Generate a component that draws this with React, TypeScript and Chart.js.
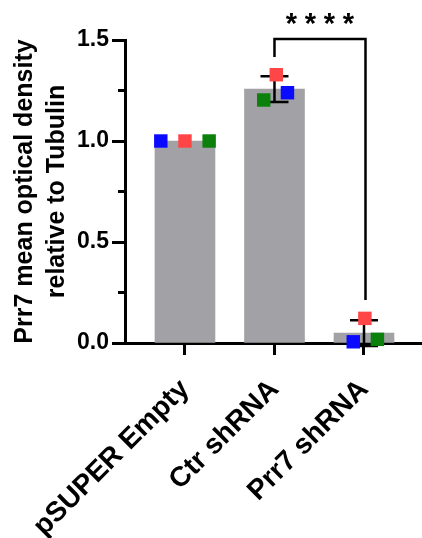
import React, { useEffect, useRef } from 'react';
import { Chart, registerables } from 'chart.js';

Chart.register(...registerables);

const categories = ['pSUPER Empty', 'Ctr shRNA', 'Prr7 shRNA'];
const means = [1.0, 1.257, 0.049];
const sds = [0, 0.064, 0.064];
const blueValues = [1.0, 1.239, 0.006];
const redValues = [1.0, 1.328, 0.122];
const greenValues = [1.0, 1.203, 0.018];
const blueJitter = [-0.27, 0.145, -0.12];
const redJitter = [0, 0.02, 0.01];
const greenJitter = [0.27, -0.12, 0.15];
const yTicks = [0, 0.5, 1.0, 1.5];
const yMinorTicks = [0.25, 0.75, 1.25];
const yAxisTitle = ['Prr7 mean optical density', 'relative to Tubulin'];
const sigLabel = ['*', '*', '*', '*'];
const sigFrom = 1;
const sigTo = 2;
const sigTop = 1.505;
const sigLeftEnd = 1.416;
const sigRightEnd = 0.213;
const sigTextY = 1.604;

const FONT = 'Arial, "Liberation Sans", Helvetica, sans-serif';

const overlay = {
  id: 'overlay',
  afterDatasetDraw(chart: any, args: any) {
    if (args.index !== 0) return;
    const ctx = chart.ctx;
    const xs = chart.scales.x;
    const ys = chart.scales.y;
    ctx.save();
    ctx.strokeStyle = '#000';
    ctx.lineWidth = 2.5;
    means.forEach((m, i) => {
      if (!sds[i]) return;
      const px = xs.getPixelForValue(i);
      const top = ys.getPixelForValue(m + sds[i]);
      const bot = ys.getPixelForValue(m - sds[i]);
      ctx.beginPath();
      ctx.moveTo(px, top);
      ctx.lineTo(px, bot);
      ctx.moveTo(px - 14, top);
      ctx.lineTo(px + 14, top);
      ctx.moveTo(px - 14, bot);
      ctx.lineTo(px + 14, bot);
      ctx.stroke();
    });
    ctx.restore();
  },
  afterDraw(chart: any) {
    const ctx = chart.ctx;
    const xs = chart.scales.x;
    const ys = chart.scales.y;
    ctx.save();
    ctx.strokeStyle = '#000';
    // minor ticks
    ctx.lineWidth = 3;
    const left = chart.chartArea.left;
    yMinorTicks.forEach((v) => {
      const py = ys.getPixelForValue(v);
      ctx.beginPath();
      ctx.moveTo(left - 7, py);
      ctx.lineTo(left, py);
      ctx.stroke();
    });
    // bracket
    ctx.lineWidth = 2.5;
    const x1 = xs.getPixelForValue(sigFrom);
    const x2 = xs.getPixelForValue(sigTo) + 1.5;
    ctx.beginPath();
    ctx.moveTo(x1, ys.getPixelForValue(sigLeftEnd));
    ctx.lineTo(x1, ys.getPixelForValue(sigTop));
    ctx.lineTo(x2, ys.getPixelForValue(sigTop));
    ctx.lineTo(x2, ys.getPixelForValue(sigRightEnd));
    ctx.stroke();
    // stars
    ctx.fillStyle = '#000';
    ctx.font = `bold 29px ${FONT}`;
    ctx.textAlign = 'center';
    ctx.textBaseline = 'middle';
    const cx = (x1 + x2) / 2;
    const pitch = 19;
    const cy = ys.getPixelForValue(sigTextY) + 6;
    sigLabel.forEach((s, i) => {
      ctx.fillText(s, cx + (i - (sigLabel.length - 1) / 2) * pitch, cy);
    });
    ctx.restore();
  },
};

function pointDataset(values: number[], jitter: number[], color: string, order: number) {
  return {
    type: 'scatter' as const,
    data: values.map((v, i) => ({ x: i + jitter[i], y: v })),
    pointStyle: 'rect',
    pointRadius: 9.5,
    pointHoverRadius: 9.5,
    backgroundColor: color,
    borderColor: color,
    borderWidth: 0,
    order,
    clip: false as any,
  };
}

export default function App() {
  const ref = useRef<HTMLCanvasElement>(null);
  useEffect(() => {
    if (!ref.current) return;
    Chart.defaults.font.family = FONT;
    const chart = new Chart(ref.current, {
      type: 'bar',
      data: {
        datasets: [
          {
            type: 'bar',
            data: means.map((m, i) => ({ x: i, y: m })),
            backgroundColor: '#a2a2a6',
            barThickness: 60,
            order: 4,
          } as any,
          pointDataset(greenValues, greenJitter, '#0b800b', 3) as any,
          pointDataset(redValues, redJitter, '#ff4545', 2) as any,
          pointDataset(blueValues, blueJitter, '#0a0aff', 1) as any,
        ],
      },
      options: {
        animation: false,
        responsive: true,
        maintainAspectRatio: false,
        layout: { autoPadding: false, padding: { top: 40, right: 0, left: 0, bottom: 0 } },
        plugins: { legend: { display: false }, tooltip: { enabled: false } },
        scales: {
          x: {
            type: 'linear',
            offset: false,
            min: -0.67,
            max: 2.648,
            afterBuildTicks: (s: any) => {
              s.ticks = categories.map((_, i) => ({ value: i }));
            },
            afterFit: (s: any) => {
              s.height = 195;
              s.paddingLeft = 0;
              s.paddingRight = 0;
            },
            ticks: {
              autoSkip: false,
              maxRotation: 45,
              minRotation: 45,
              padding: 18,
              color: '#000',
              font: { family: FONT, size: 28, weight: 'bold' },
              callback: (v: any) => categories[v] ?? '',
            },
            grid: { offset: false, drawOnChartArea: false, tickLength: 12, tickWidth: 3, tickColor: '#000' },
            border: { width: 3, color: '#000' },
          },
          y: {
            min: 0,
            max: 1.5,
            afterBuildTicks: (s: any) => {
              s.ticks = yTicks.map((v) => ({ value: v }));
            },
            afterFit: (s: any) => {
              s.width = 125;
            },
            ticks: {
              padding: 3,
              color: '#000',
              font: { family: FONT, size: 23, weight: 'bold' },
              callback: (v: any) => Number(v).toFixed(1),
            },
            grid: { drawOnChartArea: false, tickLength: 13, tickWidth: 3, tickColor: '#000' },
            border: { width: 3, color: '#000' },
            title: {
              display: true,
              text: yAxisTitle,
              color: '#000',
              font: { family: FONT, size: 25, weight: 'bold', lineHeight: 1.28 },
              padding: { top: 9, bottom: 0 },
            },
          },
        },
      } as any,
      plugins: [overlay],
    });
    return () => chart.destroy();
  }, []);
  return (
    <div style={{ position: 'fixed', left: 0, top: 0, width: 422, height: 538 }}>
      <canvas ref={ref} />
    </div>
  );
}
